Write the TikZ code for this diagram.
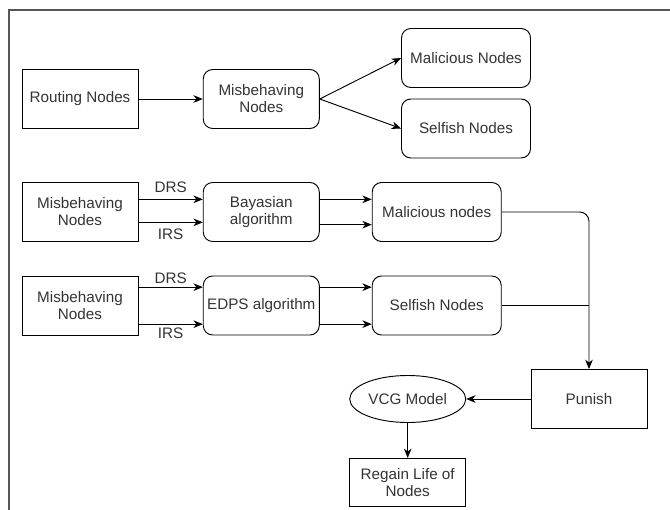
\documentclass[tikz,border=0pt]{standalone}
\usepackage{fontspec}
\setmainfont{Liberation Sans}
\usepackage{xcolor}
\usepackage{tikz}
\usetikzlibrary{shapes,arrows.meta,positioning,calc}
\definecolor{txtgray}{RGB}{51,51,51}
\definecolor{framegray}{RGB}{85,85,85}

\begin{document}
\begin{tikzpicture}[
        x=0.03cm, y=-0.03cm,
        >={Stealth[length=8pt,width=6.5pt,inset=2.5pt]},
        every node/.style={font=\fontsize{13}{14.5}\selectfont, text=txtgray, align=center},
        line/.style={draw, line width=0.8pt},
        box/.style={rectangle, draw, line width=0.8pt, minimum width=3.48cm, minimum height=1.77cm, inner sep=2pt},
        rbox/.style={box, rounded corners=8pt},
        wbox/.style={rbox, minimum width=3.87cm},
        oval/.style={ellipse, draw, line width=0.8pt, minimum width=3.48cm, minimum height=1.41cm, inner sep=0pt},
        lbl/.style={font=\fontsize{13}{14.5}\selectfont}
    ]
        \useasboundingbox (0,0) rectangle (670,510);
        \draw[framegray, line width=1.6pt] (670,10) -- (9,10) -- (9,510);

        \node[box] (routing) at (80,99) {Routing Nodes};
        \node[rbox, right=1.93cm of routing] (misb) {Misbehaving\\Nodes};
        \node[wbox] (malN) at (466,58) {Malicious Nodes};
        \node[wbox] (selN) at (466,128.5) {Selfish Nodes};

        \node[box] (misbB) at (80,212) {Misbehaving\\Nodes};
        \node[rbox, right=1.93cm of misbB] (bayes) {Bayasian\\algorithm};
        \node[wbox, right=1.56cm of bayes] (malnodes) {Malicious nodes};

        \node[box] (misbE) at (80,305.5) {Misbehaving\\Nodes};
        \node[rbox, right=1.93cm of misbE] (edps) {EDPS algorithm};
        \node[wbox, right=1.56cm of edps] (selnodes) {Selfish Nodes};

        \node[box] (punish) at (589,399) {Punish};
        \node[oval, left=1.93cm of punish] (vcg) {VCG Model};
        \node[box, minimum height=1.44cm, below=1.05cm of vcg] (regain) {Regain Life of\\Nodes};

        \draw[->, line] (routing.east) -- (misb.west);
        \draw[->, line] (misb.east) -- (malN.west);
        \draw[->, line] (misb.east) -- (selN.west);

        \draw[->, line] ([yshift=0.38cm]misbB.east) -- node[lbl, above=2pt] (drsB) {DRS} ([yshift=0.38cm]bayes.west);
        \draw[->, line] ([yshift=-0.31cm]misbB.east) -- node[lbl, below=2pt] (irsB) {IRS} ([yshift=-0.31cm]bayes.west);
        \draw[->, line] ([yshift=0.38cm]bayes.east) -- ([yshift=0.38cm]malnodes.west);
        \draw[->, line] ([yshift=-0.38cm]bayes.east) -- ([yshift=-0.38cm]malnodes.west);

        \draw[->, line] ([yshift=0.55cm]misbE.east) -- node[lbl, above=-1pt] (drsE) {DRS} ([yshift=0.55cm]edps.west);
        \draw[->, line] ([yshift=-0.56cm]misbE.east) -- node[lbl, below=-1pt] (irsE) {IRS} ([yshift=-0.56cm]edps.west);
        \draw[->, line] ([yshift=0.55cm]edps.east) -- ([yshift=0.55cm]selnodes.west);
        \draw[->, line] ([yshift=-0.56cm]edps.east) -- ([yshift=-0.56cm]selnodes.west);

        \draw[->, line, rounded corners=8pt] (malnodes.east) -| (punish.north);
        \draw[line] (selnodes.east) -- (selnodes.east -| punish.north);
        \draw[->, line] (punish.west) -- (vcg.east);
        \draw[->, line] (vcg.south) -- (regain.north);
    \end{tikzpicture}
\end{document}
